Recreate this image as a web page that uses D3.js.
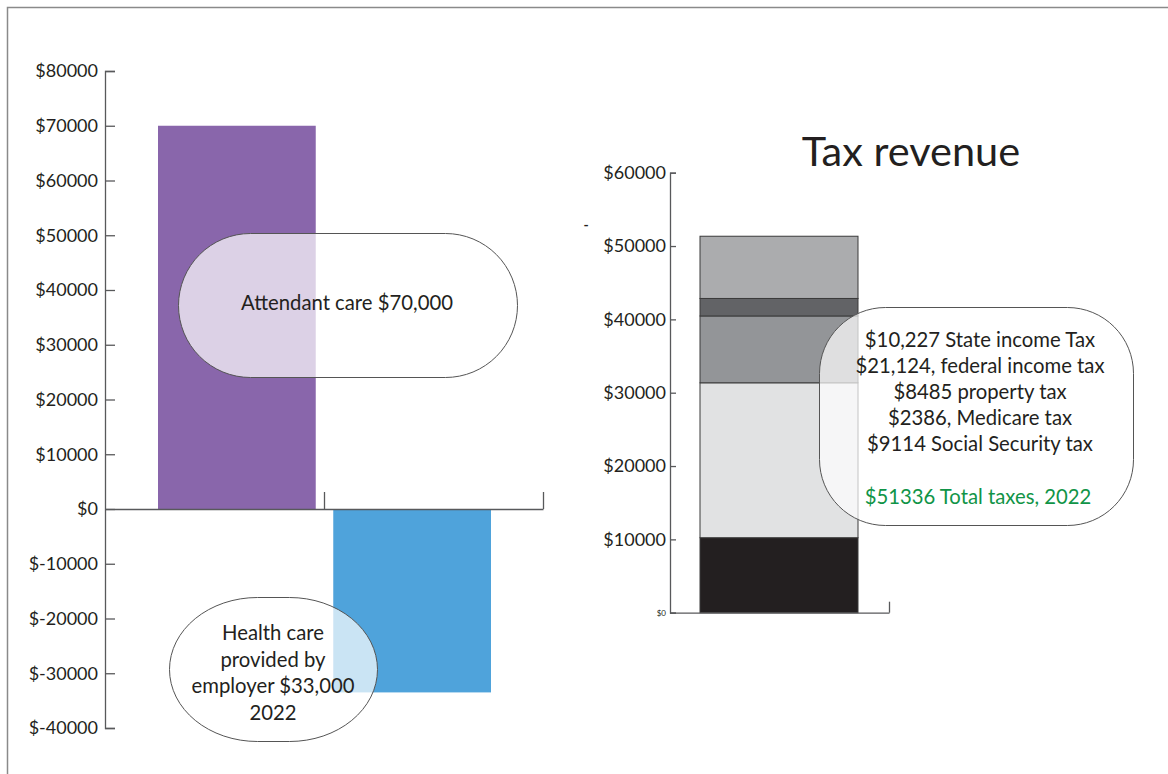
<!DOCTYPE html>
<html>
<head>
<meta charset="utf-8">
<script src="https://cdn.jsdelivr.net/npm/d3@7"></script>
<style>
  body { margin: 0; background: #fff; }
  text { font-family: Lato, "Open Sans", sans-serif; fill: #231f20; }
</style>
</head>
<body>
<script>
  // left chart: cost vs. benefit
  const costCats = ["Attendant care", "Health care provided by employer"];
  const costValues = [70000, -33500];
  const costTicks = [80000, 70000, 60000, 50000, 40000, 30000, 20000, 10000, 0, -10000, -20000, -30000, -40000];
  const costNote1 = ["Attendant care $70,000"];
  const costNote2 = ["Health care", "provided by", "employer $33,000", "2022"];

  // right chart: stacked tax revenue
  const taxCats = ["State income tax", "Federal income tax", "Social Security tax", "Medicare tax", "Property tax"];
  const taxValues = [10227, 21124, 9114, 2386, 8485];
  const taxTicks = [0, 10000, 20000, 30000, 40000, 50000, 60000];
  const taxNotes = ["$10,227 State income Tax", "$21,124, federal income tax", "$8485 property tax",
                    "$2386, Medicare tax", "$9114 Social Security tax"];
  const taxTotal = "$51336 Total taxes, 2022";

  const costColors = ["#8966ab", "#4fa3db"];
  const taxColors = ["#231f20", "#e1e2e3", "#939598", "#626366", "#abacae"];

  const W = 1168, H = 774;
  const svg = d3.select("body").append("svg")
    .attr("width", W)
    .attr("height", H);

  // page frame (runs off the right and bottom)
  svg.append("rect")
    .attr("x", 7.5).attr("y", 7.5)
    .attr("width", 1300).attr("height", 900)
    .attr("fill", "none")
    .attr("stroke", "#8a8a8a")
    .attr("stroke-width", 1.5);

  // ---------- left chart ----------
  const y1 = d3.scaleLinear().domain([-40000, 80000]).range([728, 71]);
  const xAxisScale = d3.scaleLinear().domain([0, 2]).range([105, 543]);
  const xBar = d3.scaleBand().domain(costCats).range([158, 491]).paddingInner(0.1);

  svg.selectAll("rect.cost")
    .data(costValues)
    .enter()
    .append("rect")
    .attr("class", "cost")
    .attr("x", (d, i) => xBar(costCats[i]))
    .attr("y", d => y1(Math.max(0, d)))
    .attr("width", xBar.bandwidth())
    .attr("height", d => Math.abs(y1(d) - y1(0)))
    .attr("fill", (d, i) => costColors[i]);

  const yAxis1 = svg.append("g")
    .attr("transform", "translate(105,0)")
    .call(d3.axisLeft(y1)
      .tickValues(costTicks)
      .tickFormat(d => "$" + d)
      .tickSizeInner(-10)
      .tickSizeOuter(-10)
      .tickPadding(7));

  const xAxis1 = svg.append("g")
    .attr("transform", `translate(0,${y1(0)})`)
    .call(d3.axisBottom(xAxisScale)
      .tickValues([1, 2])
      .tickFormat("")
      .tickSizeInner(-17)
      .tickSizeOuter(0));

  // ---------- right chart ----------
  const y2 = d3.scaleLinear().domain([0, 60000]).range([612.7, 172.7]);

  const row = {};
  taxCats.forEach((c, i) => row[c] = taxValues[i]);
  const stacked = d3.stack().keys(taxCats)([row]);

  svg.selectAll("rect.tax")
    .data(stacked)
    .enter()
    .append("rect")
    .attr("class", "tax")
    .attr("x", 700)
    .attr("width", 158)
    .attr("y", d => y2(d[0][1]))
    .attr("height", d => y2(d[0][0]) - y2(d[0][1]))
    .attr("fill", (d, i) => taxColors[i])
    .attr("stroke", "#3a3a3a")
    .attr("stroke-width", 1);

  const yAxis2 = svg.append("g")
    .attr("transform", "translate(670,0)")
    .call(d3.axisLeft(y2)
      .tickValues(taxTicks)
      .tickFormat(d => "$" + d)
      .tickSizeInner(-6)
      .tickSizeOuter(-6)
      .tickPadding(4));

  yAxis2.selectAll(".tick text")
    .filter(d => d === 0)
    .style("font-size", "8px");

  const xAxis2 = svg.append("g")
    .attr("transform", `translate(0,${y2(0)})`)
    .call(d3.axisBottom(d3.scaleLinear().domain([0, 1]).range([670, 889]))
      .tickValues([1])
      .tickFormat("")
      .tickSizeInner(-11)
      .tickSizeOuter(0));

  // axis styling
  svg.selectAll(".domain, .tick line")
    .attr("stroke", "#58595b")
    .attr("stroke-width", 1.3);
  yAxis1.selectAll(".tick text").style("font-size", "18px").attr("fill", "#231f20");
  yAxis2.selectAll(".tick text").filter(d => d !== 0).style("font-size", "18px");
  yAxis2.selectAll(".tick text").attr("fill", "#231f20");

  svg.append("text")
    .attr("x", 911)
    .attr("y", 166)
    .attr("text-anchor", "middle")
    .style("font-size", "41.5px")
    .text("Tax revenue");

  svg.append("text")
    .attr("x", 586)
    .attr("y", 230)
    .attr("text-anchor", "middle")
    .style("font-size", "14px")
    .style("font-weight", "bold")
    .text("-");

  // ---------- callout bubbles ----------
  const bubbleFill = "rgba(255,255,255,0.7)";

  svg.append("rect")
    .attr("x", 178.5).attr("y", 233.5)
    .attr("width", 339).attr("height", 144)
    .attr("rx", 72).attr("ry", 72)
    .attr("fill", bubbleFill)
    .attr("stroke", "#555")
    .attr("stroke-width", 1);

  svg.append("text")
    .attr("x", 347)
    .attr("y", 310)
    .attr("text-anchor", "middle")
    .style("font-size", "20.3px")
    .text(costNote1[0]);

  svg.append("rect")
    .attr("x", 169.5).attr("y", 597.5)
    .attr("width", 208).attr("height", 144)
    .attr("rx", 88).attr("ry", 72)
    .attr("fill", bubbleFill)
    .attr("stroke", "#555")
    .attr("stroke-width", 1);

  svg.append("g")
    .selectAll("text")
    .data(costNote2)
    .enter()
    .append("text")
    .attr("x", 273)
    .attr("y", (d, i) => 640 + i * 26.5)
    .attr("text-anchor", "middle")
    .style("font-size", "20.3px")
    .text(d => d);

  svg.append("rect")
    .attr("x", 819.5).attr("y", 307.5)
    .attr("width", 314).attr("height", 218)
    .attr("rx", 66).attr("ry", 66)
    .attr("fill", bubbleFill)
    .attr("stroke", "#555")
    .attr("stroke-width", 1);

  const notes = svg.append("g");
  notes.selectAll("text")
    .data(taxNotes)
    .enter()
    .append("text")
    .attr("x", 980)
    .attr("y", (d, i) => 347 + i * 26)
    .attr("text-anchor", "middle")
    .style("font-size", "20.3px")
    .text(d => d);

  notes.append("text")
    .attr("x", 978)
    .attr("y", 504)
    .attr("text-anchor", "middle")
    .style("font-size", "20.3px")
    .style("fill", "#109447")
    .text(taxTotal);
</script>
</body>
</html>
